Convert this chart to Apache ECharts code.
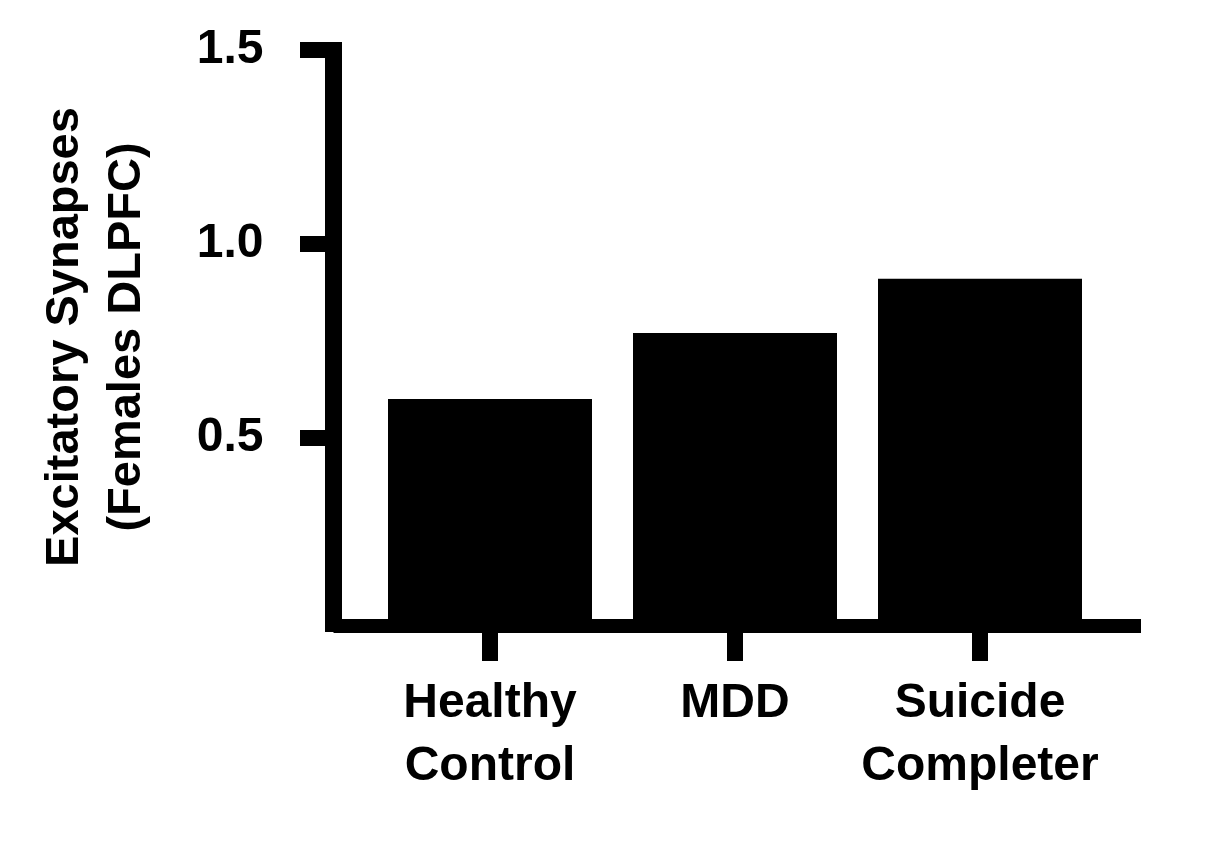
<!DOCTYPE html>
<html>
<head>
<meta charset="utf-8">
<script src="https://cdn.jsdelivr.net/npm/echarts@6/dist/echarts.min.js"></script>
<style>
  html, body { margin: 0; padding: 0; background: #fff; }
  #chart { width: 1208px; height: 848px; }
</style>
</head>
<body>
<div id="chart"></div>
<script>
const categories = ['Healthy\nControl', 'MDD', 'Suicide\nCompleter'];
const values = [0.60, 0.77, 0.91];
const yTicks = [0.5, 1.0, 1.5];
const yTitle = 'Excitatory Synapses\n(Females DLPFC)';

const FONT = '"Liberation Sans", Arial, Helvetica, sans-serif';
const chart = echarts.init(document.getElementById('chart'), null, { renderer: 'canvas' });

const yMax = 1.52;
const option = {
  backgroundColor: '#ffffff',
  animation: false,
  grid: [
    { left: 333.5, right: 67, top: 42, bottom: 216 },
    { left: 367.5, right: 105.5, top: 42, bottom: 216 }
  ],
  xAxis: [
    {
      gridIndex: 0, type: 'value', min: 0, max: 1,
      offset: -6,
      axisLine: { show: true, lineStyle: { color: '#000', width: 14, cap: 'butt' } },
      axisTick: { show: false }, axisLabel: { show: false }, splitLine: { show: false }
    },
    {
      gridIndex: 1, type: 'category', data: categories,
      offset: -6,
      axisLine: { show: false },
      axisTick: { show: true, interval: 0, alignWithLabel: true, length: 35, lineStyle: { color: '#000', width: 16, cap: 'butt' } },
      axisLabel: {
        interval: 0, hideOverlap: false,
        margin: 46, color: '#000', fontFamily: FONT, fontWeight: 'bold',
        fontSize: 48, lineHeight: 63
      },
      splitLine: { show: false }
    }
  ],
  yAxis: [
    {
      gridIndex: 0, type: 'value', min: 0, max: yMax,
      name: yTitle, nameLocation: 'middle', nameGap: 175, nameRotate: 90,
      nameTextStyle: { color: '#000', fontFamily: FONT, fontWeight: 'bold', fontSize: 47, lineHeight: 62 },
      axisLine: { show: true, lineStyle: { color: '#000', width: 17, cap: 'butt' } },
      axisTick: { show: true, customValues: yTicks, length: 33.5, lineStyle: { color: '#000', width: 16, cap: 'butt' } },
      axisLabel: {
        show: true, customValues: yTicks, margin: 70,
        color: '#000', fontFamily: FONT, fontWeight: 'bold', fontSize: 48,
        formatter: v => Number(v).toFixed(1)
      },
      splitLine: { show: false }
    },
    {
      gridIndex: 1, type: 'value', min: 0, max: yMax, show: false,
      splitLine: { show: false }
    }
  ],
  series: [
    {
      type: 'bar', xAxisIndex: 1, yAxisIndex: 1,
      data: values, barWidth: 204,
      itemStyle: { color: '#000' }
    }
  ]
};
chart.setOption(option);
</script>
</body>
</html>
